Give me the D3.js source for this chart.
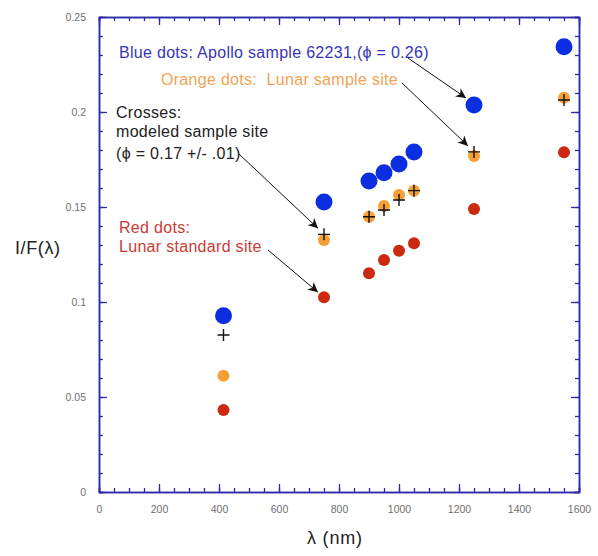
<!DOCTYPE html>
<html>
<head>
<meta charset="utf-8">
<script src="https://cdn.jsdelivr.net/npm/d3@7"></script>
<style>
  body { margin: 0; background: #fff; }
  text { font-family: "Liberation Sans", Arial, sans-serif; white-space: pre; }
</style>
</head>
<body>
<div id="vis"></div>
<script>
var width = 598, height = 556;
var margin = { top: 17, right: 19, bottom: 64, left: 99 };

// data
var wavelengths = [415, 750, 900, 950, 1000, 1050, 1250, 1550];
var blueDots   = [0.0928, 0.1526, 0.1637, 0.1680, 0.1726, 0.1790, 0.2037, 0.2344];
var orangeDots = [0.0612, 0.1326, 0.1449, 0.1505, 0.1563, 0.1586, 0.1768, 0.2075];
var redDots    = [0.0432, 0.1025, 0.1151, 0.1221, 0.1270, 0.1309, 0.1490, 0.1788];
var crosses    = [0.0826, 0.1356, 0.1449, 0.1484, 0.1537, 0.1586, 0.1790, 0.2063];

var xTicks = [0, 200, 400, 600, 800, 1000, 1200, 1400, 1600];
var yTicks = [0, 0.05, 0.1, 0.15, 0.2, 0.25];

var axisColor = "#2b2ba6";

var svg = d3.select("#vis")
  .append("svg")
  .attr("width", width)
  .attr("height", height);

var x = d3.scaleLinear().domain([0, 1600]).range([margin.left, width - margin.right]);
var y = d3.scaleLinear().domain([0, 0.25]).range([height - margin.bottom, margin.top]);

// minor ticks
var xMinor = d3.range(0, 1601, 50);
var yMinor = d3.range(0, 0.2501, 0.01);

function styleAxis(g) {
  g.select(".domain").attr("stroke", axisColor).attr("stroke-width", 1.5);
  g.selectAll(".tick line").attr("stroke", axisColor).attr("stroke-width", 1.3);
  g.selectAll(".tick text").attr("fill", "#707070").attr("font-size", "10.5px")
    .attr("font-family", "Liberation Sans, Arial, sans-serif");
}

// bottom
svg.append("g")
  .attr("transform", "translate(0," + y(0) + ")")
  .call(d3.axisBottom(x).tickValues(xMinor).tickSize(-4).tickFormat(""))
  .call(styleAxis);
svg.append("g")
  .attr("transform", "translate(0," + y(0) + ")")
  .call(d3.axisBottom(x).tickValues(xTicks).tickSizeInner(-8).tickSizeOuter(0).tickPadding(14).tickFormat(d3.format("d")))
  .call(styleAxis);
// top
svg.append("g")
  .attr("transform", "translate(0," + y(0.25) + ")")
  .call(d3.axisTop(x).tickValues(xMinor).tickSize(-4).tickFormat(""))
  .call(styleAxis);
svg.append("g")
  .attr("transform", "translate(0," + y(0.25) + ")")
  .call(d3.axisTop(x).tickValues(xTicks).tickSizeInner(-8).tickSizeOuter(0).tickFormat(""))
  .call(styleAxis);
// left
svg.append("g")
  .attr("transform", "translate(" + x(0) + ",0)")
  .call(d3.axisLeft(y).tickValues(yMinor).tickSize(-4).tickFormat(""))
  .call(styleAxis);
svg.append("g")
  .attr("transform", "translate(" + x(0) + ",0)")
  .call(d3.axisLeft(y).tickValues(yTicks).tickSizeInner(-8).tickSizeOuter(0).tickPadding(13).tickFormat(d => d === 0 ? "0" : d3.format("")(+d.toFixed(2))))
  .call(styleAxis);
// right
svg.append("g")
  .attr("transform", "translate(" + x(1600) + ",0)")
  .call(d3.axisRight(y).tickValues(yMinor).tickSize(-4).tickFormat(""))
  .call(styleAxis);
svg.append("g")
  .attr("transform", "translate(" + x(1600) + ",0)")
  .call(d3.axisRight(y).tickValues(yTicks).tickSizeInner(-8).tickSizeOuter(0).tickFormat(""))
  .call(styleAxis);

// axis titles
svg.append("text")
  .attr("x", 15).attr("y", 254)
  .attr("font-size", "18px").attr("fill", "#222")
  .attr("letter-spacing", "0.6px")
  .text("I/F(λ)");
svg.append("text")
  .attr("x", 307).attr("y", 544)
  .attr("font-size", "18px").attr("fill", "#222")
  .attr("letter-spacing", "0.8px")
  .text("λ (nm)");

// points
function dots(values, r, color) {
  svg.append("g")
    .selectAll("circle")
    .data(values)
    .enter()
    .append("circle")
    .attr("cx", (d, i) => x(wavelengths[i]))
    .attr("cy", d => y(d))
    .attr("r", r)
    .style("fill", color);
}
dots(blueDots, 8.5, "#0b2ee0");
dots(orangeDots, 6, "#f7a035");
dots(redDots, 6, "#cc2a10");

svg.append("g")
  .selectAll("path")
  .data(crosses)
  .enter()
  .append("path")
  .attr("d", (d, i) => {
    var cx = x(wavelengths[i]), cy = y(d);
    return "M" + (cx - 6) + "," + cy + "H" + (cx + 6) + "M" + cx + "," + (cy - 6) + "V" + (cy + 6);
  })
  .attr("stroke", "#111")
  .attr("stroke-width", 1.4);

// annotations
var labels = [
  { text: "Blue dots: Apollo sample 62231,(ϕ = 0.26)", x: 119, y: 58, color: "#3636b8" },
  { text: "Orange dots:  Lunar sample site", x: 161, y: 85, color: "#f2a355" },
  { text: "Crosses:", x: 116, y: 118, color: "#222" },
  { text: "modeled sample site", x: 116, y: 137, color: "#222" },
  { text: "(ϕ = 0.17 +/- .01)", x: 116, y: 159, color: "#222" },
  { text: "Red dots:", x: 119, y: 233, color: "#cc3a33" },
  { text: "Lunar standard site", x: 119, y: 252, color: "#cc3a33" }
];
svg.append("g")
  .selectAll("text")
  .data(labels)
  .enter()
  .append("text")
  .attr("x", d => d.x)
  .attr("y", d => d.y)
  .attr("font-size", "16px")
  .attr("letter-spacing", "0.3px")
  .attr("fill", d => d.color)
  .text(d => d.text);

svg.append("defs").append("marker")
  .attr("id", "arrow")
  .attr("viewBox", "0 0 10 10")
  .attr("refX", 10).attr("refY", 5)
  .attr("markerWidth", 10).attr("markerHeight", 10)
  .attr("markerUnits", "userSpaceOnUse")
  .attr("orient", "auto")
  .append("path")
  .attr("d", "M0,0 L10,5 L0,10 L3,5 Z")
  .attr("fill", "#111");

// arrows: from text end to the pointed mark (series, index)
var arrows = [
  { x1: 408, y1: 58, series: blueDots, i: 6, dx: -8, dy: -7 },
  { x1: 402, y1: 83, series: crosses, i: 6, dx: -6, dy: -6 },
  { x1: 239, y1: 154, series: crosses, i: 1, dx: -6, dy: -6 },
  { x1: 268, y1: 250, series: redDots, i: 1, dx: -6, dy: -5 }
];
svg.append("g")
  .selectAll("line")
  .data(arrows)
  .enter()
  .append("line")
  .attr("x1", d => d.x1)
  .attr("y1", d => d.y1)
  .attr("x2", d => x(wavelengths[d.i]) + d.dx)
  .attr("y2", d => y(d.series[d.i]) + d.dy)
  .attr("stroke", "#111")
  .attr("stroke-width", 1)
  .attr("marker-end", "url(#arrow)");
</script>
</body>
</html>
